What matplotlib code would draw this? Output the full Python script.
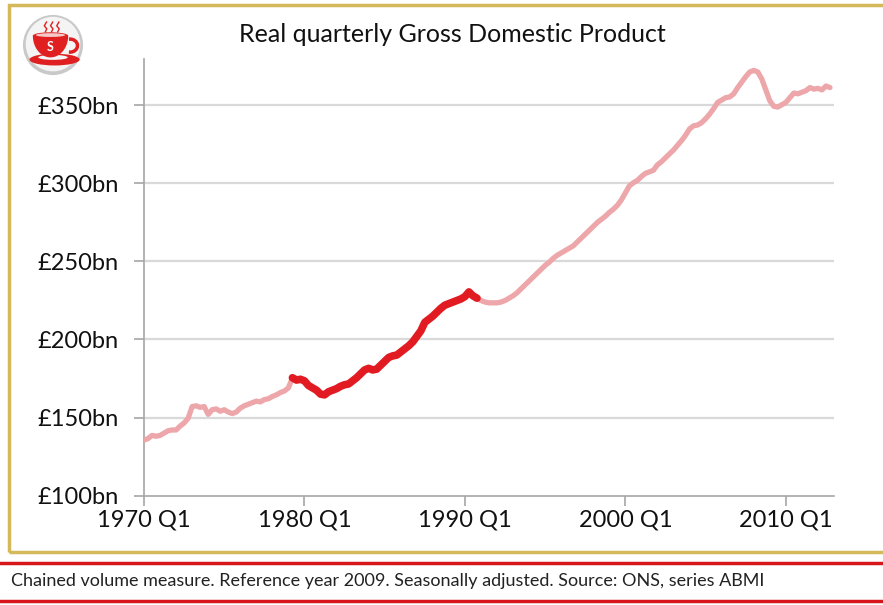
import matplotlib
matplotlib.use("Agg")
import matplotlib.pyplot as plt
from matplotlib.patches import Rectangle, Circle, Ellipse, Arc, Polygon
from matplotlib.lines import Line2D
import numpy as np

# ---------------- data (quarterly, £bn, 1970 Q1 .. 2012 Q4) ----------------
gdp = [
    135.5, 136.5, 138.5, 138.0,   # 1970
    138.5, 140.0, 141.5, 142.0,   # 1971
    142.0, 144.5, 146.5, 149.5,   # 1972
    157.0, 157.5, 156.5, 157.0,   # 1973
    152.0, 155.0, 155.5, 154.0,   # 1974
    155.0, 153.5, 152.5, 153.5,   # 1975
    156.0, 157.5, 158.5, 159.5,   # 1976
    160.5, 160.0, 161.5, 162.0,   # 1977
    163.5, 164.5, 166.0, 167.0,   # 1978
    169.0, 175.5, 174.0, 174.5,   # 1979
    173.5, 170.5, 169.0, 167.5,   # 1980
    165.0, 164.5, 166.5, 167.5,   # 1981
    168.5, 170.0, 171.0, 171.5,   # 1982
    173.5, 175.5, 178.0, 180.5,   # 1983
    181.5, 180.5, 181.0, 183.5,   # 1984
    186.0, 188.5, 189.5, 190.0,   # 1985
    192.0, 194.0, 196.0, 198.5,   # 1986
    202.0, 205.5, 211.0, 213.0,   # 1987
    215.0, 217.5, 220.0, 222.0,   # 1988
    223.0, 224.0, 225.0, 226.0,   # 1989
    227.5, 230.5, 228.0, 226.5,   # 1990
    225.0, 224.0, 223.5, 223.5,   # 1991
    223.5, 224.0, 225.0, 226.5,   # 1992
    228.0, 230.0, 232.5, 235.0,   # 1993
    237.5, 240.0, 242.5, 245.0,   # 1994
    247.5, 249.5, 252.0, 254.0,   # 1995
    255.5, 257.0, 258.5, 260.0,   # 1996
    262.5, 265.0, 267.5, 270.0,   # 1997
    272.5, 275.0, 277.0, 279.0,   # 1998
    281.5, 283.5, 286.0, 289.5,   # 1999
    294.0, 298.5, 300.5, 302.0,   # 2000
    304.5, 306.5, 307.5, 308.5,   # 2001
    312.0, 314.0, 316.5, 319.0,   # 2002
    321.5, 324.5, 327.5, 331.0,   # 2003
    335.0, 337.0, 337.5, 339.0,   # 2004
    341.5, 344.5, 348.0, 352.0,   # 2005
    353.5, 355.0, 355.5, 357.5,   # 2006
    361.5, 365.0, 368.5, 371.5,   # 2007
    372.5, 371.5, 367.0, 360.0,   # 2008
    353.0, 349.5, 349.0, 350.5,   # 2009
    352.0, 355.0, 358.0, 357.5,   # 2010
    358.5, 359.5, 361.5, 360.5,   # 2011
    361.0, 360.0, 362.5, 361.5,   # 2012
]
first_year = 1970
highlight_start = "1979 Q2"
highlight_end = "1990 Q4"
tick_labels = ["1970 Q1", "1980 Q1", "1990 Q1", "2000 Q1", "2010 Q1"]
y_ticks = [100, 150, 200, 250, 300, 350]
title = "Real quarterly Gross Domestic Product"
footer = "Chained volume measure. Reference year 2009. Seasonally adjusted. Source: ONS, series ABMI"

labels = [f"{first_year + i // 4} Q{i % 4 + 1}" for i in range(len(gdp))]
x = np.arange(len(gdp))
i0 = labels.index(highlight_start)
i1 = labels.index(highlight_end)

FONT = ["Lato", "DejaVu Sans"]
plt.rcParams["font.family"] = FONT

W, H = 883, 605
fig = plt.figure(figsize=(W / 100, H / 100), dpi=100)

def fx(px):
    return px / W

def fy(py):
    return 1 - py / H

# gold frame
fig.patches.append(Rectangle((fx(9), fy(552)), fx(886) - fx(9), fy(5) - fy(552),
                             transform=fig.transFigure, fill=False,
                             edgecolor="#D4B85A", linewidth=2.5, zorder=0))
# red footer lines
for py in (563, 601):
    fig.lines.append(Line2D([0, 1], [fy(py), fy(py)], transform=fig.transFigure,
                            color="#D7161C", linewidth=2.5))
fig.text(fx(11), fy(581), footer, fontsize=13, color="#222222", va="center", ha="left")

# main axes
left, right, bottom, top = 144, 834, 495.5, 58.7
ax = fig.add_axes([fx(left), fy(bottom), fx(right) - fx(left), fy(top) - fy(bottom)])
ax.set_xlim(0, 172)
ax.set_ylim(100, 380)

ax.plot(x, gdp, color="#EDA6A9", linewidth=3.8, solid_capstyle="round",
        solid_joinstyle="round", zorder=3)
ax.plot(x[i0:i1 + 1], gdp[i0:i1 + 1], color="#E21A22", linewidth=5.5,
        solid_capstyle="round", solid_joinstyle="round", zorder=4)

ax.set_yticks(y_ticks)
ax.set_yticklabels([f"£{v}bn" for v in y_ticks], fontsize=17, color="#111111")
ax.set_xticks([labels.index(t) for t in tick_labels])
ax.set_xticklabels(tick_labels, fontsize=17, color="#111111")
for v in y_ticks[1:]:
    ax.axhline(v, color="#D9D9D9", linewidth=1.6, zorder=1)
for s in ("top", "right"):
    ax.spines[s].set_visible(False)
for s in ("left", "bottom"):
    ax.spines[s].set_color("#A6A6A6")
    ax.spines[s].set_linewidth(1.2)
ax.tick_params(axis="both", direction="out", length=7, width=1.2, color="#A6A6A6")
ax.tick_params(axis="y", pad=11)
ax.tick_params(axis="x", pad=3)

fig.text(fx(452), fy(35), title, fontsize=18, color="#111111", ha="center", va="center")

# logo (teacup in a circle)
lax = fig.add_axes([fx(22), fy(76), fx(62), fy(14) - fy(76)])
lax.set_xlim(-1, 1)
lax.set_ylim(-1, 1)
lax.set_aspect("equal")
lax.axis("off")
lax.add_patch(Circle((0, 0), 0.97, facecolor="#C9C9C9", edgecolor="none"))
lax.add_patch(Circle((0, 0.03), 0.88, facecolor="#F4F4F4", edgecolor="none"))
red = "#E02020"
# saucer
lax.add_patch(Ellipse((0.05, -0.47), 1.62, 0.38, facecolor=red, edgecolor="none"))
lax.add_patch(Ellipse((0.0, -0.40), 0.95, 0.16, facecolor="#F4F4F4", edgecolor="none"))
# cup body
t = np.linspace(np.pi, 2 * np.pi, 40)
cup = np.column_stack([-0.08 + 0.57 * np.cos(t), 0.30 + 0.70 * np.sin(t)])
lax.add_patch(Polygon(cup, closed=True, facecolor=red, edgecolor="none"))
lax.add_patch(Ellipse((-0.08, 0.30), 1.14, 0.22, facecolor=red, edgecolor="none"))
lax.add_patch(Ellipse((-0.08, 0.32), 0.95, 0.12, facecolor="#F6C9C9", edgecolor="none"))
# handle
lax.add_patch(Arc((0.55, -0.02), 0.48, 0.42, theta1=-100, theta2=100, color=red, linewidth=2.5))
lax.text(-0.08, -0.08, "S", color="white", fontsize=9, fontweight="bold",
         ha="center", va="center")
for sx in (-0.25, -0.05, 0.15):
    lax.plot([sx, sx + 0.05, sx - 0.03, sx + 0.04], [0.42, 0.52, 0.62, 0.74],
             color=red, linewidth=1)

fig.savefig("out.png", dpi=100)
